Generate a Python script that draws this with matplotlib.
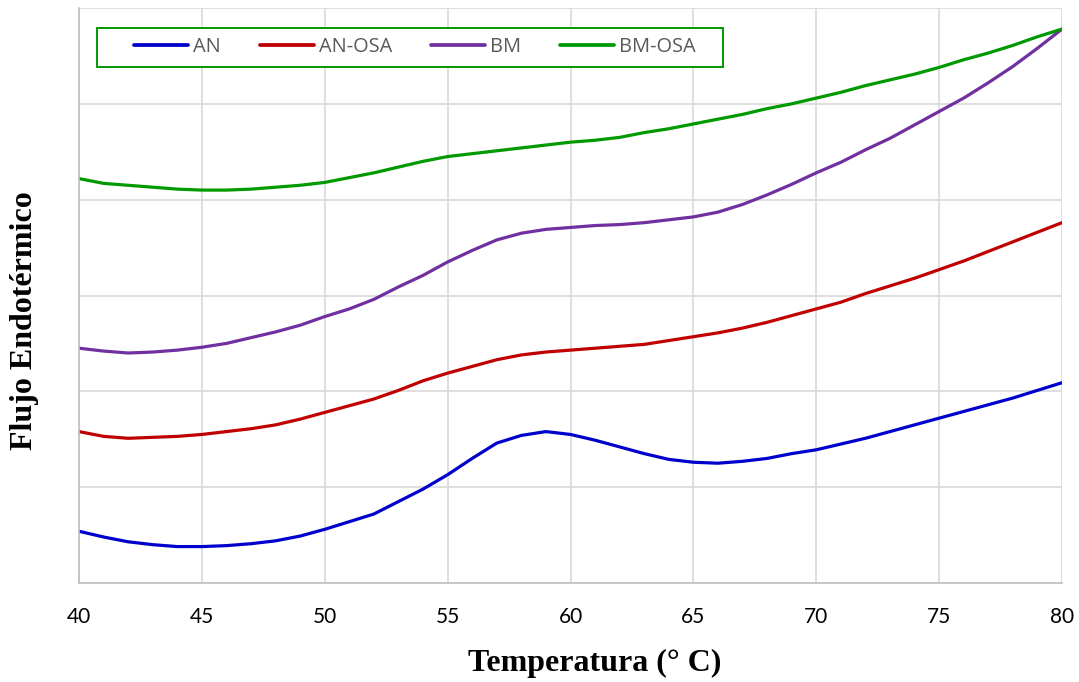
import matplotlib
matplotlib.use("Agg")
import matplotlib.pyplot as plt
from matplotlib.patches import Rectangle

temperature = list(range(40, 81))

an = [0.54, 0.48, 0.43, 0.40, 0.38, 0.38, 0.39, 0.41, 0.44, 0.49,
      0.56, 0.64, 0.72, 0.85, 0.98, 1.13, 1.30, 1.46, 1.54, 1.58,
      1.55, 1.49, 1.42, 1.35, 1.29, 1.26, 1.25, 1.27, 1.30, 1.35,
      1.39, 1.45, 1.51, 1.58, 1.65, 1.72, 1.79, 1.86, 1.93, 2.01, 2.09]

an_osa = [1.58, 1.53, 1.51, 1.52, 1.53, 1.55, 1.58, 1.61, 1.65, 1.71,
          1.78, 1.85, 1.92, 2.01, 2.11, 2.19, 2.26, 2.33, 2.38, 2.41,
          2.43, 2.45, 2.47, 2.49, 2.53, 2.57, 2.61, 2.66, 2.72, 2.79,
          2.86, 2.93, 3.02, 3.10, 3.18, 3.27, 3.36, 3.46, 3.56, 3.66, 3.76]

bm = [2.45, 2.42, 2.40, 2.41, 2.43, 2.46, 2.50, 2.56, 2.62, 2.69,
      2.78, 2.86, 2.96, 3.09, 3.21, 3.35, 3.47, 3.58, 3.65, 3.69,
      3.71, 3.73, 3.74, 3.76, 3.79, 3.82, 3.87, 3.95, 4.05, 4.16,
      4.28, 4.39, 4.52, 4.64, 4.78, 4.92, 5.06, 5.22, 5.39, 5.58, 5.78]

bm_osa = [4.22, 4.17, 4.15, 4.13, 4.11, 4.10, 4.10, 4.11, 4.13, 4.15,
          4.18, 4.23, 4.28, 4.34, 4.40, 4.45, 4.48, 4.51, 4.54, 4.57,
          4.60, 4.62, 4.65, 4.70, 4.74, 4.79, 4.84, 4.89, 4.95, 5.00,
          5.06, 5.12, 5.19, 5.25, 5.31, 5.38, 5.46, 5.53, 5.61, 5.70, 5.78]

series_names = ["AN", "AN-OSA", "BM", "BM-OSA"]
series_colors = ["#0000CC", "#C00000", "#7030A0", "#009900"]
x_ticks = [40, 45, 50, 55, 60, 65, 70, 75, 80]

W, H = 1079, 682
fig = plt.figure(figsize=(W/100, H/100), dpi=100)
ax = fig.add_axes([79/W, 99/H, 983/W, 575/H])

for vals, name, col in zip([an, an_osa, bm, bm_osa], series_names, series_colors):
    ax.plot(temperature, vals, color=col, lw=2.3, label=name, solid_capstyle="round",
            solid_joinstyle="round")

ax.set_xlim(40, 80)
ax.set_ylim(0, 6)
ax.set_xticks(x_ticks)
ax.set_yticks(range(0, 7))
ax.set_yticklabels([])
ax.tick_params(axis="y", length=0)
ax.tick_params(axis="x", length=0, pad=17, labelsize=15, labelcolor="#000000")
for lab in ax.get_xticklabels():
    lab.set_fontfamily("Lato")
ax.grid(True, color="#D9D9D9", lw=1.2)
ax.set_axisbelow(True)
for s in ["top", "right"]:
    ax.spines[s].set_visible(False)
ax.spines["left"].set_color("#BFBFBF")
ax.spines["bottom"].set_color("#BFBFBF")
ax.spines["left"].set_linewidth(1.2)
ax.spines["bottom"].set_linewidth(1.2)

fig.text(595/W, 1 - 663/H, "Temperatura (° C)", ha="center", va="center",
         fontfamily="Liberation Serif", fontweight="bold", fontsize=23)
fig.text(25/W, 1 - 321/H, "Flujo Endotérmico", rotation=90, ha="center", va="center",
         fontfamily="Liberation Serif", fontweight="bold", fontsize=23)

# legend frame
fig.patches.append(Rectangle((97/W, 1 - 67/H), (723-97)/W, (67-27.5)/H,
                             transform=fig.transFigure, facecolor="white",
                             edgecolor="#009900", lw=1.4, zorder=5))

leg = fig.legend(loc="center left", bbox_to_anchor=(134/W, 1 - 47/H),
                 ncol=4, frameon=False, borderaxespad=0, borderpad=0,
                 prop={"family": "Open Sans", "size": 14.4}, handlelength=2.7,
                 handletextpad=0.25, columnspacing=1.95)
leg.set_zorder(6)
for t in leg.get_texts():
    t.set_color("#595959")
for h in leg.get_lines():
    h.set_linewidth(2.7)

fig.savefig("out.png", dpi=100)
